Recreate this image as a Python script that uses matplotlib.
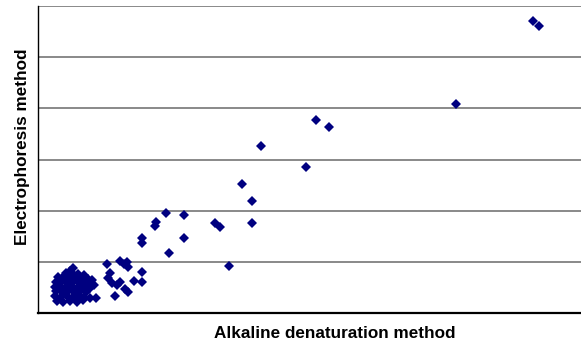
import numpy as np
import matplotlib
matplotlib.use("Agg")
import matplotlib.pyplot as plt

# outlying points (alkaline, electrophoresis), arbitrary units
x_outer = [9.71, 9.82, 8.20, 5.45, 5.71, 4.37, 5.25, 4.00, 4.20, 2.86, 3.47, 3.57,
           4.20, 2.86, 2.04, 2.04, 3.75, 2.57, 2.31, 2.29, 2.51]
y_outer = [5.71, 5.61, 4.08, 3.78, 3.63, 3.27, 2.86, 2.53, 2.18, 1.92, 1.76, 1.69,
           1.76, 1.47, 1.47, 1.37, 0.92, 1.18, 1.78, 1.71, 1.96]

# middle group
x_mid = [1.35, 1.61, 1.75, 1.76, 1.69, 2.04, 2.04, 1.88, 1.41, 1.37, 1.45, 1.61,
         1.55, 1.71, 1.76, 1.51]
y_mid = [0.96, 1.02, 1.00, 0.90, 0.96, 0.80, 0.61, 0.63, 0.78, 0.69, 0.59, 0.61,
         0.55, 0.47, 0.41, 0.33]

# dense low group
x_low = [0.69, 0.63,
         0.55, 0.67, 0.78, 0.90,
         0.39, 0.49, 0.63, 0.75, 0.86, 0.98, 1.06,
         0.35, 0.45, 0.57, 0.69, 0.80, 0.92, 1.02, 1.10,
         0.33, 0.43, 0.55, 0.67, 0.78, 0.90, 1.00,
         0.35, 0.47, 0.59, 0.71, 0.82, 0.94,
         0.33, 0.45, 0.57, 0.69, 0.80, 0.90, 1.02, 1.14,
         0.37, 0.49, 0.63, 0.76, 0.88]
y_low = [0.88, 0.82,
         0.78, 0.78, 0.76, 0.75,
         0.71, 0.71, 0.71, 0.69, 0.69, 0.67, 0.65,
         0.61, 0.61, 0.61, 0.63, 0.59, 0.61, 0.57, 0.55,
         0.51, 0.53, 0.51, 0.53, 0.49, 0.51, 0.47,
         0.43, 0.41, 0.43, 0.41, 0.43, 0.41,
         0.33, 0.31, 0.33, 0.31, 0.33, 0.31, 0.29, 0.29,
         0.24, 0.22, 0.24, 0.22, 0.25]

x = np.array(x_outer + x_mid + x_low)
y = np.array(y_outer + y_mid + y_low)

fig = plt.figure(figsize=(5.81, 3.45), dpi=100)
ax = fig.add_axes([38/581, 32/345, 543/581, 307/345])

for g in range(1, 7):
    ax.axhline(g, color="#808080", lw=1.3, zorder=1)

ax.plot(x, y, linestyle="none", marker="D", ms=5.2, color="#000080",
        markeredgewidth=0, zorder=3)

ax.set_xlim(0, 543/51)
ax.set_ylim(0, 6)
ax.set_xticks([])
ax.set_yticks([])
for s in ["top", "right"]:
    ax.spines[s].set_visible(False)
ax.spines["left"].set_linewidth(1.0)
ax.spines["bottom"].set_linewidth(1.6)

fig.text(335/581, 1 - 333/345, "Alkaline denaturation method", ha="center", va="center",
         fontsize=12.3, fontweight="bold", family="Liberation Sans")
fig.text(23/581, 1 - 147/345, "Electrophoresis method", ha="center", va="center",
         rotation=90, fontsize=12.3, fontweight="bold", family="Liberation Sans")

fig.savefig("out.png", dpi=100)
